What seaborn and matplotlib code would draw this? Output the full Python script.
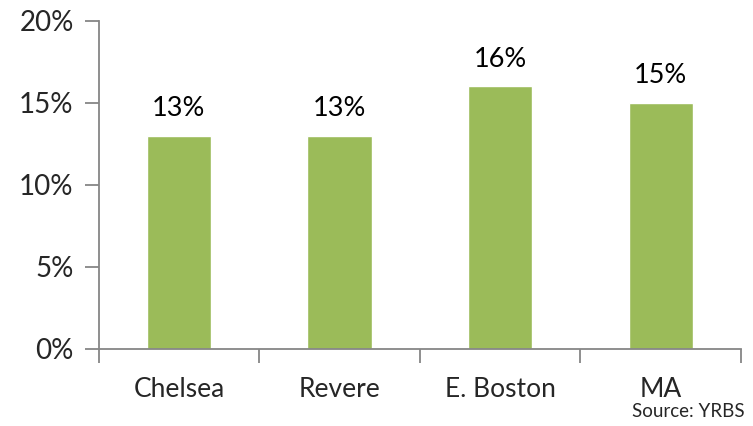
import numpy as np
import pandas as pd
import matplotlib
matplotlib.use("Agg")
import matplotlib.pyplot as plt
from matplotlib.ticker import FixedLocator, PercentFormatter
import seaborn as sns

# data
places = ["Chelsea", "Revere", "E. Boston", "MA"]
rates = [13, 13, 16, 15]
label_text = ["13%", "13%", "16%", "15%"]

df = pd.DataFrame({"place": places, "rate": rates})

sns.set_style("white")
plt.rcParams["font.family"] = ["Lato", "DejaVu Sans"]

fig = plt.figure(figsize=(7.53, 4.26), dpi=100)
ax = fig.add_axes([0.131, 0.181, 0.853, 0.770])

sns.barplot(data=df, x="place", y="rate", color="#9BBB59", saturation=1,
            width=0.4, ax=ax)

# value labels above bars
for i, (v, t) in enumerate(zip(rates, label_text)):
    ax.text(i, v + 0.9, t, ha="center", va="bottom", fontsize=19.5, color="black")

ax.set_ylim(0, 20)
ax.set_xlim(-0.5, len(places) - 0.5)
ax.set_yticks([0, 5, 10, 15, 20])
ax.yaxis.set_major_formatter(PercentFormatter(decimals=0))

# tick marks between categories, labels centred on bars
ax.xaxis.set_major_locator(FixedLocator(np.arange(-0.5, len(places), 1.0)))
ax.xaxis.set_minor_locator(FixedLocator(np.arange(len(places))))
ax.set_xticklabels([], minor=False)
ax.set_xticklabels(places, minor=True)
ax.tick_params(axis="x", which="major", length=10, width=1.3, color="#868686",
               direction="out", bottom=True)
ax.tick_params(axis="x", which="minor", length=0, labelsize=19, pad=20)
ax.tick_params(axis="y", length=10, width=1.3, color="#868686", direction="out",
               left=True, labelsize=20, pad=8)

ax.set_xlabel("")
ax.set_ylabel("")
for side in ["top", "right"]:
    ax.spines[side].set_visible(False)
for side in ["left", "bottom"]:
    ax.spines[side].set_color("#868686")
    ax.spines[side].set_linewidth(1.3)

fig.text(0.989, 0.015, "Source: YRBS", ha="right", va="bottom", fontsize=13.5)

fig.savefig("out.png", dpi=100)
